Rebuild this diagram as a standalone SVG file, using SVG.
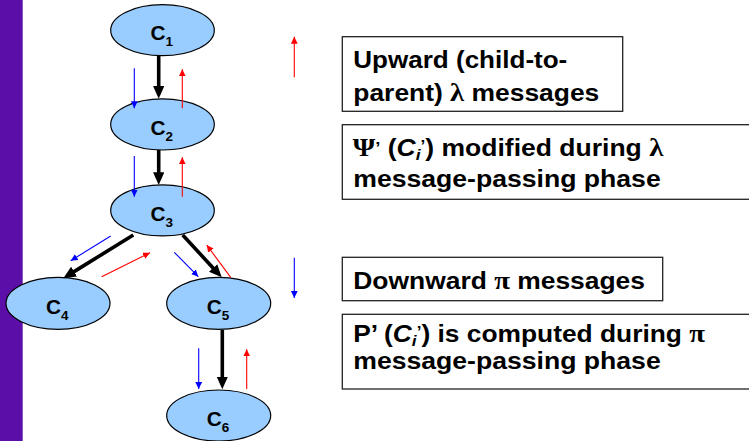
<svg xmlns="http://www.w3.org/2000/svg" width="749" height="441" viewBox="0 0 749 441">
<style>
.node ellipse{fill:#99CCFF;stroke:#000;stroke-width:1.2}
.lbl{font-family:"Liberation Sans",Arial,sans-serif;font-weight:bold;font-size:20px;fill:#000}
.sub{font-size:13px}
.box rect{fill:#fff;stroke:#222;stroke-width:1.3}
.bt{font-family:"Liberation Sans",Arial,sans-serif;font-weight:bold;font-size:23px;fill:#000}
.sym{font-family:"Liberation Serif","DejaVu Serif",serif;font-weight:bold;font-size:25px}
.edge{stroke:#000;stroke-width:3.6;fill:none}
.blue{stroke:#0000FF;stroke-width:1.1;fill:none}
.red{stroke:#FF0000;stroke-width:1.1;fill:none}
</style>
<defs>
<marker id="ah" markerUnits="userSpaceOnUse" markerWidth="13" markerHeight="12" refX="1" refY="5.65" orient="auto"><path d="M0,0 L12.7,5.65 L0,11.3 z" fill="#000"/></marker>
<marker id="ab" markerUnits="userSpaceOnUse" markerWidth="8" markerHeight="8" refX="7" refY="3.4" orient="auto"><path d="M0,0 L7,3.4 L0,6.8 z" fill="#0000FF"/></marker>
<marker id="ar" markerUnits="userSpaceOnUse" markerWidth="8" markerHeight="8" refX="7" refY="3.4" orient="auto"><path d="M0,0 L7,3.4 L0,6.8 z" fill="#FF0000"/></marker>
</defs>
<rect x="0" y="0" width="749" height="441" fill="#fff"/>
<rect x="0" y="0" width="22.7" height="441" fill="#5C0FA8"/>

<g id="C1" class="node"><ellipse cx="162.5" cy="30.2" rx="51.8" ry="25.5"/><text class="lbl" x="150.5" y="40.3" textLength="22.5" lengthAdjust="spacingAndGlyphs">C<tspan class="sub" dy="6">1</tspan></text></g>
<g id="C2" class="node"><ellipse cx="162.5" cy="124.4" rx="51.8" ry="25.6"/><text class="lbl" x="150.5" y="134.5" textLength="22.5" lengthAdjust="spacingAndGlyphs">C<tspan class="sub" dy="6">2</tspan></text></g>
<g id="C3" class="node"><ellipse cx="162.5" cy="210.4" rx="51.8" ry="25.5"/><text class="lbl" x="150.5" y="220.5" textLength="22.5" lengthAdjust="spacingAndGlyphs">C<tspan class="sub" dy="6">3</tspan></text></g>
<g id="C4" class="node"><ellipse cx="58" cy="303.3" rx="52" ry="26"/><text class="lbl" x="46" y="314" textLength="22.5" lengthAdjust="spacingAndGlyphs">C<tspan class="sub" dy="6">4</tspan></text></g>
<g id="C5" class="node"><ellipse cx="218.7" cy="303.3" rx="52" ry="26"/><text class="lbl" x="206.7" y="314" textLength="22.5" lengthAdjust="spacingAndGlyphs">C<tspan class="sub" dy="6">5</tspan></text></g>
<g id="C6" class="node"><ellipse cx="218.7" cy="415.5" rx="52" ry="25.5"/><text class="lbl" x="206.7" y="426" textLength="22.5" lengthAdjust="spacingAndGlyphs">C<tspan class="sub" dy="6">6</tspan></text></g>

<g id="box-upward" class="box"><rect x="342.3" y="36.7" width="280.4" height="74.6"/>
<text class="bt" x="353.3" y="67.7" textLength="214" lengthAdjust="spacingAndGlyphs">Upward (child-to-</text>
<text class="bt" x="353.3" y="101" textLength="246" lengthAdjust="spacingAndGlyphs">parent) <tspan class="sym">λ</tspan> messages</text></g>

<g id="box-psi" class="box"><rect x="342.3" y="124.7" width="420" height="74.6"/>
<text class="bt" x="352.7" y="155.5" textLength="310.6" lengthAdjust="spacingAndGlyphs"><tspan class="sym">Ψ</tspan><tspan font-size="16" dy="-2">’</tspan><tspan dy="2"> (</tspan><tspan font-style="italic">C</tspan><tspan font-style="italic" font-size="15" dy="4">i</tspan><tspan font-size="15" dy="-9.5">’</tspan><tspan dy="5.5">) modified during </tspan><tspan class="sym">λ</tspan></text>
<text class="bt" x="353.3" y="186.7" textLength="307.4" lengthAdjust="spacingAndGlyphs">message-passing phase</text></g>

<g id="box-downward" class="box"><rect x="342.3" y="257.3" width="320.4" height="43.4"/>
<text class="bt" x="353.3" y="289.3" textLength="291.7" lengthAdjust="spacingAndGlyphs">Downward <tspan class="sym">π</tspan> messages</text></g>

<g id="box-p" class="box"><rect x="342.3" y="314.3" width="420" height="74.7"/>
<text class="bt" x="353.3" y="341.7" textLength="351.7" lengthAdjust="spacingAndGlyphs">P’ (<tspan font-style="italic">C</tspan><tspan font-style="italic" font-size="15" dy="4">i</tspan><tspan font-size="15" dy="-9.5">’</tspan><tspan dy="5.5">) is computed during </tspan><tspan class="sym">π</tspan></text>
<text class="bt" x="353.3" y="368.7" textLength="307.4" lengthAdjust="spacingAndGlyphs">message-passing phase</text></g>

<g id="connectors">
<line class="edge" x1="158.7" y1="55.7" x2="158.7" y2="87" marker-end="url(#ah)"/>
<line class="edge" x1="158.7" y1="150" x2="158.7" y2="173.3" marker-end="url(#ah)"/>
<line class="edge" x1="133.3" y1="235" x2="73.25" y2="272.15" marker-end="url(#ah)"/>
<line class="edge" x1="182.7" y1="235" x2="213.77" y2="268.7" marker-end="url(#ah)"/>
<line class="edge" x1="222.3" y1="330" x2="222.3" y2="377.6" marker-end="url(#ah)"/>

<line class="blue" x1="134.3" y1="68.3" x2="134.3" y2="108.3" marker-end="url(#ab)"/>
<line class="blue" x1="134.3" y1="156" x2="134.3" y2="196.7" marker-end="url(#ab)"/>
<line class="blue" x1="110.7" y1="236" x2="70.7" y2="260.7" marker-end="url(#ab)"/>
<line class="blue" x1="174.3" y1="252.3" x2="198.3" y2="276.7" marker-end="url(#ab)"/>
<line class="blue" x1="198.7" y1="348.3" x2="198.7" y2="389" marker-end="url(#ab)"/>
<line class="blue" x1="294.3" y1="257.7" x2="294.3" y2="298" marker-end="url(#ab)"/>

<line class="red" x1="182.3" y1="108.3" x2="182.3" y2="69.3" marker-end="url(#ar)"/>
<line class="red" x1="182.3" y1="196.7" x2="182.3" y2="157.3" marker-end="url(#ar)"/>
<line class="red" x1="101.7" y1="276.7" x2="150" y2="252.7" marker-end="url(#ar)"/>
<line class="red" x1="230.7" y1="277.3" x2="206.7" y2="245" marker-end="url(#ar)"/>
<line class="red" x1="246.7" y1="389" x2="246.7" y2="349.3" marker-end="url(#ar)"/>
<line class="red" x1="294.3" y1="77.3" x2="294.3" y2="36.7" marker-end="url(#ar)"/>
</g>
</svg>
